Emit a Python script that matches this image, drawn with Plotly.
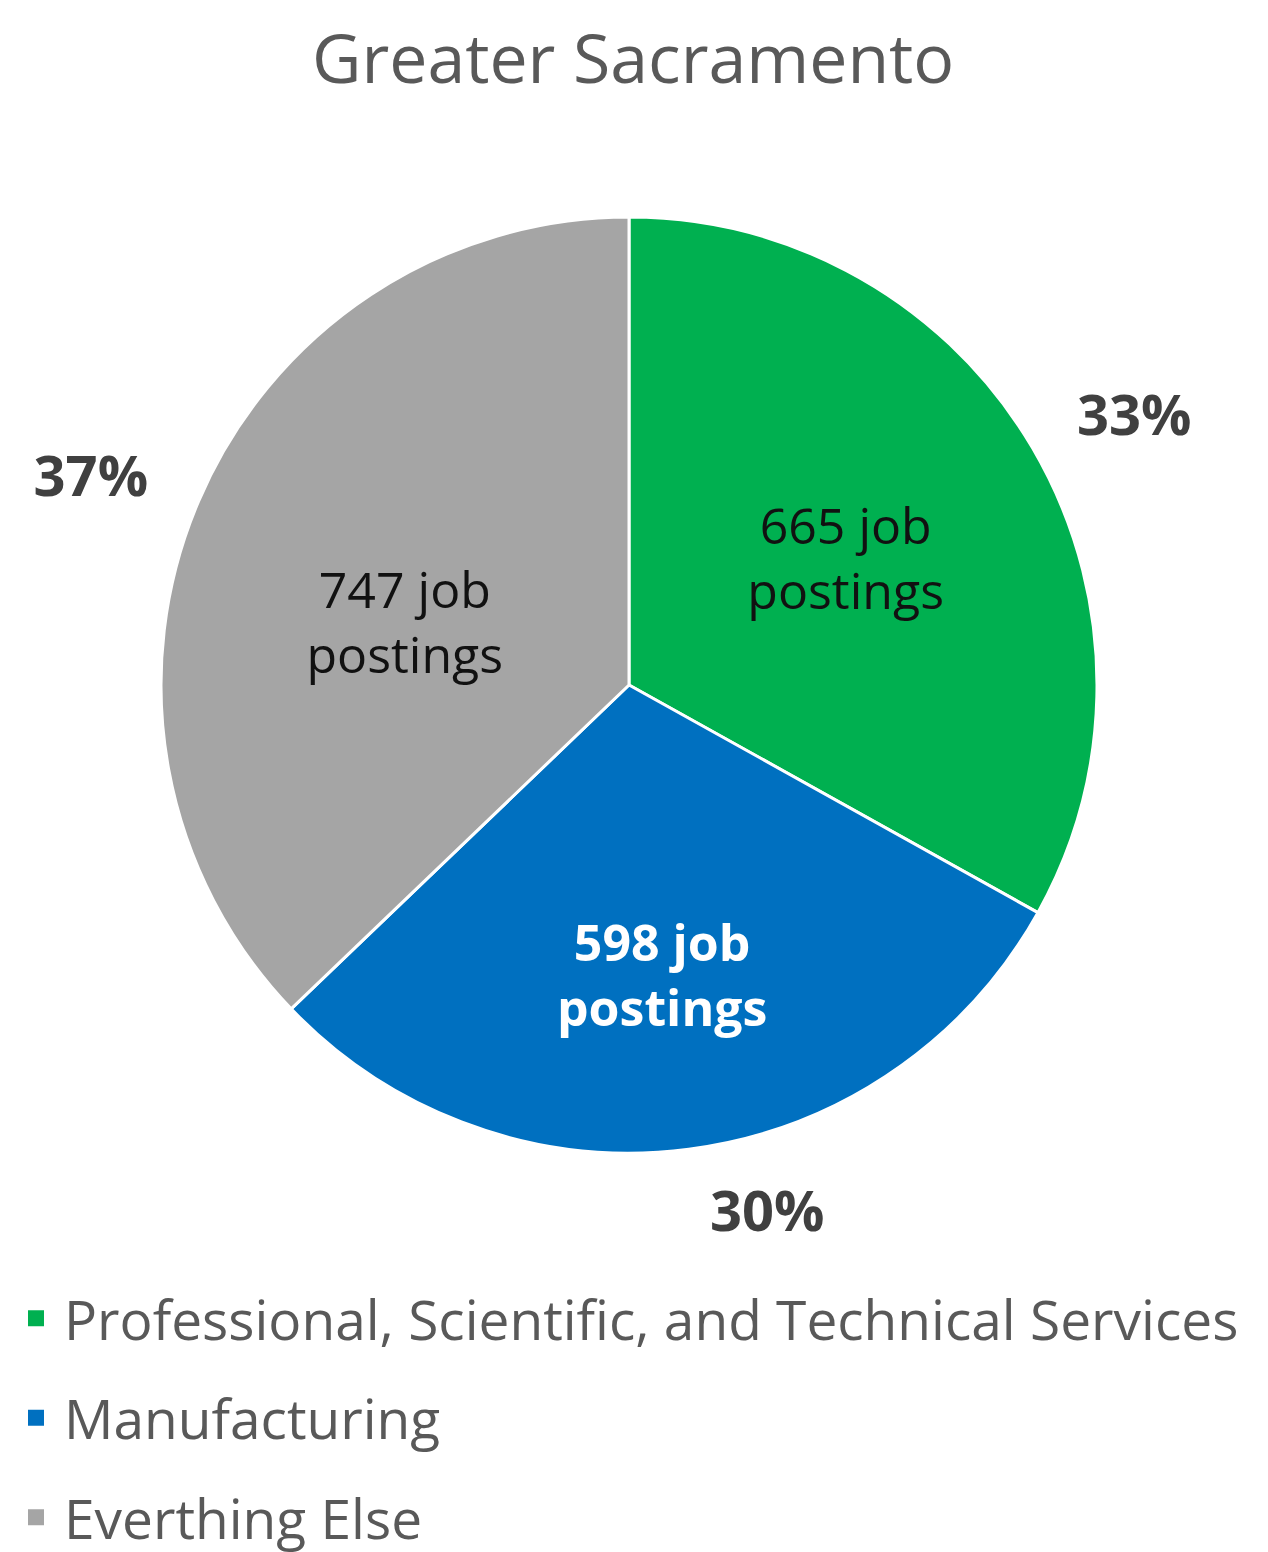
import plotly.graph_objects as go

labels = ["Professional, Scientific, and Technical Services", "Manufacturing", "Everthing Else"]
values = [665, 598, 747]
colors = ["#00B050", "#0070C0", "#A5A5A5"]
inside_font_colors = ["#111111", "#FFFFFF", "#111111"]
bold_inside = [False, True, False]
lead_blank = [False, True, True]
title_text = "Greater Sacramento"

FONT = "Open Sans"
W, H = 1268, 1552


def px_domain(cx, cy, r):
    return dict(x=[(cx - r) / W, (cx + r) / W], y=[1 - (cy + r) / H, 1 - (cy - r) / H])


inside_text = []
for v, b, lb in zip(values, bold_inside, lead_blank):
    t = f"{v} job<br>postings"
    if b:
        t = f"<b>{t}</b>"
    if lb:
        t = " <br>" + t
    inside_text.append(t)

fig = go.Figure()

# main pie with inside labels
fig.add_trace(go.Pie(
    labels=labels, values=values, sort=False, direction="clockwise", rotation=0,
    marker=dict(colors=colors, line=dict(color="white", width=3)),
    text=inside_text, textinfo="text", textposition="inside",
    insidetextorientation="horizontal",
    insidetextfont=dict(family=FONT, size=50, color=inside_font_colors),
    domain=px_domain(621, 677, 468), showlegend=False, hoverinfo="label+value+percent",
))

# transparent overlay pie (larger radius) for outside percentage labels
fig.add_trace(go.Pie(
    labels=labels, values=values, sort=False, direction="clockwise", rotation=0,
    marker=dict(colors=["rgba(0,0,0,0)"] * 3, line=dict(width=0)),
    texttemplate="<b>%{percent:.0%}</b>", textposition="outside",
    outsidetextfont=dict(family=FONT, size=56, color="#404040"),
    domain=px_domain(619, 668, 500), showlegend=False, hoverinfo="skip",
))

# legend entries
for i, (lab, col) in enumerate(zip(labels, colors)):
    fig.add_trace(go.Scatter(
        x=[None], y=[None], mode="markers", name=lab,
        marker=dict(symbol="square", size=24, color=col),
        legendgroup=f"g{i}", showlegend=True,
    ))

fig.update_layout(
    width=W, height=H,
    margin=dict(l=0, r=0, t=0, b=0),
    paper_bgcolor="white", plot_bgcolor="white",
    title=dict(text=title_text, x=0.493, xanchor="center", y=0.967, yanchor="middle",
               font=dict(family=FONT, size=68, color="#595959")),
    xaxis=dict(visible=False), yaxis=dict(visible=False),
    legend=dict(x=0.0, xanchor="left", y=0.0, yanchor="bottom",
                orientation="v", tracegroupgap=25, itemwidth=46,
                font=dict(family=FONT, size=55, color="#595959")),
)

fig.write_html("out.html")
